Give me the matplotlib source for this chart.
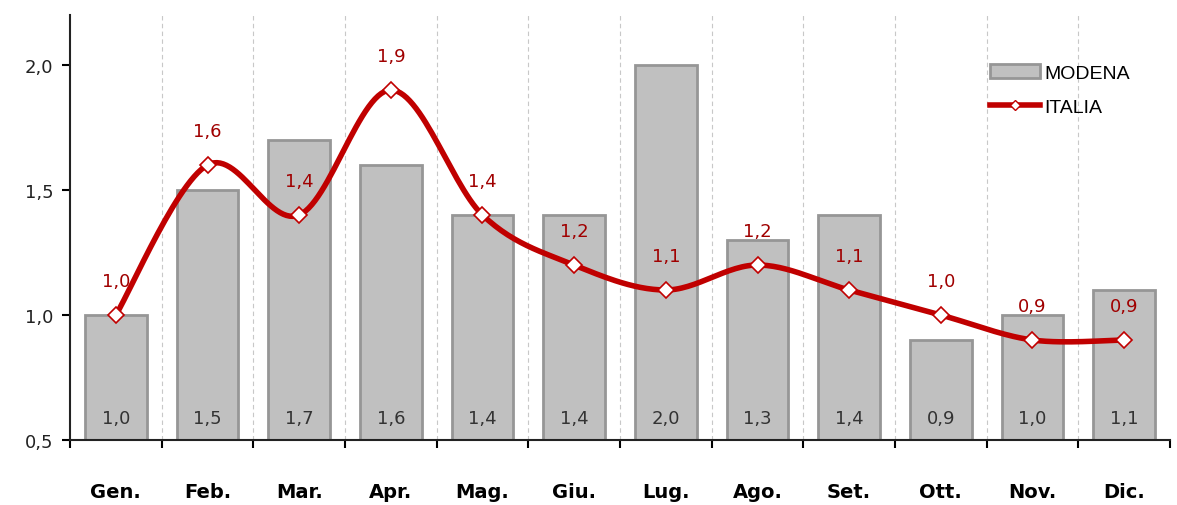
import numpy as np
import matplotlib
matplotlib.use("Agg")
import matplotlib.pyplot as plt
from matplotlib.lines import Line2D
from matplotlib.patches import Patch

mesi = ["Gen.", "Feb.", "Mar.", "Apr.", "Mag.", "Giu.", "Lug.", "Ago.",
        "Set.", "Ott.", "Nov.", "Dic."]
modena = [1.0, 1.5, 1.7, 1.6, 1.4, 1.4, 2.0, 1.3, 1.4, 0.9, 1.0, 1.1]
italia = [1.0, 1.6, 1.4, 1.9, 1.4, 1.2, 1.1, 1.2, 1.1, 1.0, 0.9, 0.9]


def virgola(v):
    return f"{v:.1f}".replace(".", ",")


def curva_liscia(x, y, passi=30):
    """Curva tipo Excel (Bezier con punti di controllo Catmull-Rom)."""
    x = np.asarray(x, float)
    y = np.asarray(y, float)
    px = np.concatenate([[x[0]], x, [x[-1]]])
    py = np.concatenate([[y[0]], y, [y[-1]]])
    xs, ys = [], []
    t = np.linspace(0, 1, passi)
    for i in range(1, len(px) - 2):
        p0 = np.array([px[i], py[i]])
        p3 = np.array([px[i + 1], py[i + 1]])
        c1 = p0 + (np.array([px[i + 1], py[i + 1]]) - np.array([px[i - 1], py[i - 1]])) / 6
        c2 = p3 - (np.array([px[i + 2], py[i + 2]]) - np.array([px[i], py[i]])) / 6
        b = ((1 - t) ** 3)[:, None] * p0 + (3 * (1 - t) ** 2 * t)[:, None] * c1 \
            + (3 * (1 - t) * t ** 2)[:, None] * c2 + (t ** 3)[:, None] * p3
        xs.extend(b[:, 0])
        ys.extend(b[:, 1])
    return xs, ys


fig = plt.figure(figsize=(11.77, 5.06), dpi=100)
ax = fig.add_axes([70 / 1177, 65 / 506, 1100 / 1177, 425 / 506])

x = np.arange(len(mesi))
ax.bar(x, np.array(modena) - 0.5, bottom=0.5, width=0.67, color="#C0C0C0",
       edgecolor="#969696", linewidth=2, zorder=2)
for xi, v in zip(x, modena):
    ax.text(xi, 0.55, virgola(v), ha="center", va="bottom", fontsize=13,
            color="#333333", zorder=3)

cx, cy = curva_liscia(x, italia)
ax.plot(cx, cy, color="#C00000", linewidth=4, solid_capstyle="round", zorder=4)
ax.plot(x, italia, linestyle="none", marker="D", markersize=8,
        markerfacecolor="white", markeredgecolor="#C00000", markeredgewidth=1.2,
        zorder=5)
for xi, v in zip(x, italia):
    ax.text(xi, v + 0.1, virgola(v), ha="center", va="bottom", fontsize=13,
            color="#A00000", zorder=6)

for b in np.arange(0.5, len(mesi) - 1, 1):
    ax.axvline(b, color="#C8C8C8", linestyle=(0, (4, 3)), linewidth=0.8, zorder=1)

ax.set_xlim(-0.5, len(mesi) - 0.5)
ax.set_ylim(0.5, 2.2)
ax.set_yticks([0.5, 1.0, 1.5, 2.0])
ax.set_yticklabels([virgola(v) for v in [0.5, 1.0, 1.5, 2.0]], fontsize=13,
                   color="#222222")
ax.set_xticks(np.arange(-0.5, len(mesi), 1))
ax.set_xticklabels([])
ax.set_xticks(x, minor=True)
ax.set_xticklabels(mesi, minor=True, fontsize=14, fontweight="bold")
ax.tick_params(axis="x", which="minor", length=0, pad=30)
ax.tick_params(axis="x", which="major", direction="out", length=6, width=1.5)
ax.tick_params(axis="y", direction="out", length=6, width=1.5, pad=6)

for s in ["top", "right"]:
    ax.spines[s].set_visible(False)
for s in ["left", "bottom"]:
    ax.spines[s].set_linewidth(1.5)
    ax.spines[s].set_color("#222222")

handles = [Patch(facecolor="#C0C0C0", edgecolor="#969696", linewidth=2),
           Line2D([0], [0], color="#C00000", linewidth=4, marker="D",
                  markersize=5, markerfacecolor="white",
                  markeredgecolor="#C00000")]
ax.legend(handles, ["MODENA", "ITALIA"], loc="upper left",
          bbox_to_anchor=(0.82, 0.925), frameon=False,
          prop={"family": "Liberation Sans", "size": 14},
          handlelength=2.6, handletextpad=0.2, labelspacing=0.85)

fig.savefig("out.png", dpi=100)
